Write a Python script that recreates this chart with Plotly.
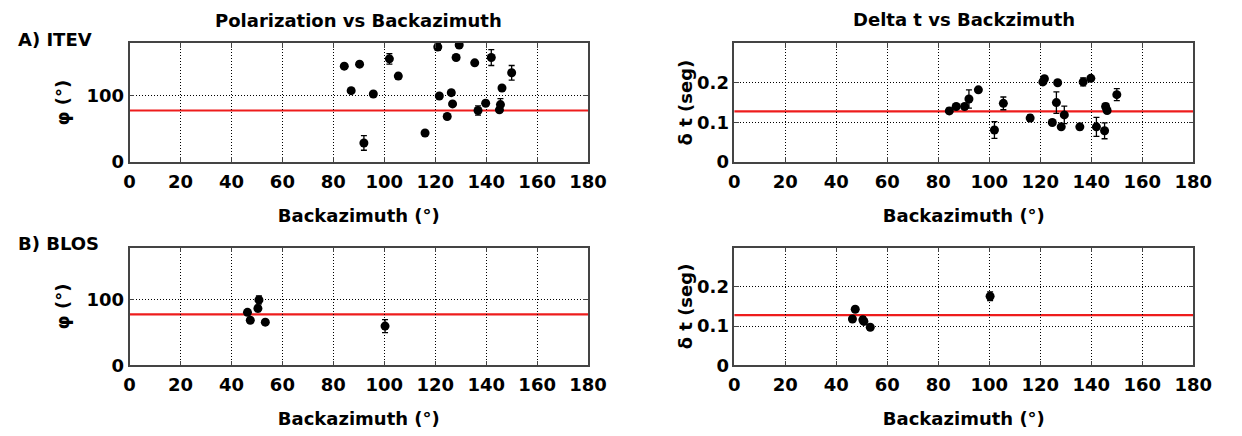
import plotly.graph_objects as go

# ITEV station: backazimuth (deg), fast polarization (deg) and delay time (s)
itev_baz = [84.3, 87.0, 90.3, 92.0, 95.7, 102.0, 105.5, 116.0, 121.0, 121.6, 124.7, 126.3,
            126.8, 128.2, 129.4, 135.5, 136.8, 139.8, 142.0, 145.2, 145.6, 146.2, 150.0]
itev_phi = [145, 108, 148, 29, 103, 156, 130, 44, 174, 100, 69, 105,
            88, 158, 177, 150, 78, 89, 158, 79, 87, 112, 135]
itev_phi_err = [3, 3, 3, 11, 3, 8, 4, 3, 5, 3, 3, 3,
                3, 3, 3, 3, 7, 3, 12, 3, 9, 3, 11]
itev_dt = [0.129, 0.140, 0.140, 0.159, 0.182, 0.081, 0.148, 0.111, 0.202, 0.210, 0.100, 0.150,
           0.200, 0.089, 0.119, 0.089, 0.202, 0.211, 0.089, 0.079, 0.140, 0.130, 0.170]
itev_dt_err = [0.007, 0.004, 0.004, 0.023, 0.004, 0.021, 0.016, 0.008, 0.005, 0.004, 0.004, 0.027,
               0.005, 0.004, 0.022, 0.007, 0.010, 0.004, 0.024, 0.020, 0.008, 0.006, 0.015]

# BLOS station
blos_baz = [46.3, 47.4, 50.4, 50.8, 53.3, 100.3]
blos_phi = [81, 69, 87, 100, 66, 60]
blos_phi_err = [3, 3, 5, 6, 3, 10]
blos_dt = [0.118, 0.143, 0.116, 0.112, 0.097, 0.176]
blos_dt_err = [0.004, 0.004, 0.008, 0.006, 0.004, 0.011]

# Mean reference values drawn as red lines
PHI_REF = 78
DT_REF = 0.128

x_ticks = [0, 20, 40, 60, 80, 100, 120, 140, 160, 180]
phi_ticks = [0, 100]
dt_ticks = [0, 0.1, 0.2]
dt_tick_text = ["0", "0.1", "0.2"]

FONT = "DejaVu Sans"
TXT = dict(family=FONT, size=18, color="black", weight="bold")

fig = go.Figure()

panels = [
    # (xaxis, yaxis, x, y, err, ref)
    ("x", "y", itev_baz, itev_phi, itev_phi_err, PHI_REF),
    ("x2", "y2", itev_baz, itev_dt, itev_dt_err, DT_REF),
    ("x3", "y3", blos_baz, blos_phi, blos_phi_err, PHI_REF),
    ("x4", "y4", blos_baz, blos_dt, blos_dt_err, DT_REF),
]

for xa, ya, xs, ys, es, ref in panels:
    fig.add_trace(go.Scatter(
        x=xs, y=ys, xaxis=xa, yaxis=ya, mode="markers",
        marker=dict(color="black", size=9, line=dict(width=0)),
        error_y=dict(type="data", array=es, visible=True, color="black",
                     thickness=1.3, width=3),
        showlegend=False,
    ))
    fig.add_shape(type="line", xref=f"{xa} domain", yref=ya,
                  x0=0, x1=1, y0=ref, y1=ref,
                  line=dict(color="#ee1c1c", width=2.2), layer="below")

x_dom_l = [0.1015, 0.4783]
x_dom_r = [0.5985, 0.9756]
y_dom_t = [0.6193, 0.8991]
y_dom_b = [0.1422, 0.4190]

common = dict(
    showline=True, linecolor="#444444", linewidth=1.6, mirror="allticks",
    ticks="inside", ticklen=5, tickcolor="#444444", tickwidth=1.3,
    showgrid=True, gridcolor="black", gridwidth=1, griddash="1px,2px",
    zeroline=False, tickfont=TXT,
)

def xaxis(dom, anchor):
    return dict(common, domain=dom, anchor=anchor, range=[0, 180],
                tickvals=x_ticks, ticklabelstandoff=2,
                title=dict(text="Backazimuth (°)", font=TXT, standoff=19))

fig.update_layout(
    width=1242, height=436,
    margin=dict(l=0, r=0, t=0, b=0),
    paper_bgcolor="white", plot_bgcolor="white",
    font=TXT,
    xaxis=xaxis(x_dom_l, "y"),
    xaxis2=xaxis(x_dom_r, "y2"),
    xaxis3=xaxis(x_dom_l, "y3"),
    xaxis4=xaxis(x_dom_r, "y4"),
    yaxis=dict(common, domain=y_dom_t, anchor="x", range=[0, 180], tickvals=phi_ticks,
               title=dict(text="φ (°)", font=TXT, standoff=12)),
    yaxis2=dict(common, domain=y_dom_t, anchor="x2", range=[0, 0.3], tickvals=dt_ticks,
                ticktext=dt_tick_text,
                title=dict(text="δ t (seg)", font=TXT, standoff=0)),
    yaxis3=dict(common, domain=y_dom_b, anchor="x3", range=[0, 180], tickvals=phi_ticks,
                title=dict(text="φ (°)", font=TXT, standoff=12)),
    yaxis4=dict(common, domain=y_dom_b, anchor="x4", range=[0, 0.3], tickvals=dt_ticks,
                ticktext=dt_tick_text,
                title=dict(text="δ t (seg)", font=TXT, standoff=0)),
)

labels = [
    ("Polarization vs Backazimuth", 0.2899, 1 - 21 / 436, "center"),
    ("Delta t vs Backzimuth", 0.7870, 1 - 20 / 436, "center"),
    ("A) ITEV", 10 / 1242, 1 - 40 / 436, "left"),
    ("B) BLOS", 10 / 1242, 1 - 249 / 436, "left"),
]
for text, x, y, anchor in labels:
    fig.add_annotation(text=text, x=x, y=y, xref="paper", yref="paper",
                       xanchor=anchor, yanchor="middle", showarrow=False, font=TXT)

fig.write_html("out.html")
